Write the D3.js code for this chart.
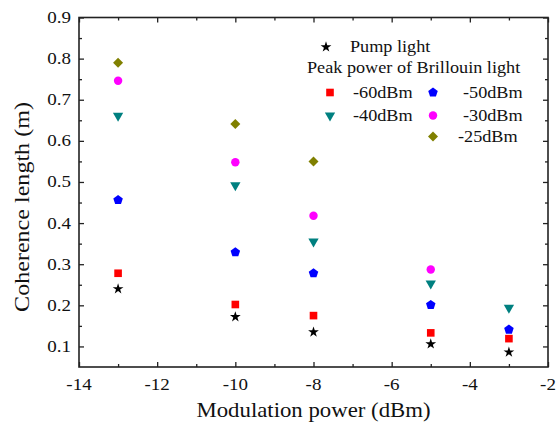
<!DOCTYPE html>
<html>
<head>
<meta charset="utf-8">
<script src="https://cdn.jsdelivr.net/npm/d3@7"></script>
<style>
  html, body { margin: 0; padding: 0; background: #fff; }
  svg { display: block; }
</style>
</head>
<body>
<svg id="chart" width="560" height="423"></svg>
<script>
// データ
const modulationPower = [-13, -10, -8, -5, -3];
const pumpLight = [0.24, 0.172, 0.135, 0.106, 0.086];
const brillouin60 = [0.278, 0.202, 0.175, 0.133, 0.119];
const brillouin50 = [0.456, 0.329, 0.278, 0.201, 0.141];
const brillouin40 = [0.661, 0.492, 0.355, 0.253, 0.194];
const brillouin30 = [0.746, 0.548, 0.418, 0.287, null];
const brillouin25 = [0.79, 0.641, 0.55, null, null];

const xTicks = [-14, -12, -10, -8, -6, -4, -2];
const yTicks = [0.1, 0.2, 0.3, 0.4, 0.5, 0.6, 0.7, 0.8, 0.9];

const svg = d3.select('#chart');
const margin = { left: 79, right: 548, top: 17.5, bottom: 367 };
const fontFamily = "'Liberation Serif', 'Times New Roman', Times, serif";

const x = d3.scaleLinear().domain([-14, -2]).range([margin.left, margin.right]);
const y = d3.scaleLinear().domain([0.05, 0.9]).range([margin.bottom, margin.top]);

// 横に少し引き伸ばしたテキスト
function stretchedText(parent, px, py, str, size, anchor, sx, rotate) {
    return parent.append('text')
        .attr('transform', `translate(${px},${py})` + (rotate ? ` rotate(${rotate})` : '') + ` scale(${sx},1)`)
        .attr('text-anchor', anchor)
        .attr('font-family', fontFamily)
        .attr('font-size', size)
        .attr('fill', '#111')
        .text(str);
}

// 五角形のパス
function pentagonPath(r) {
    const pts = d3.range(5).map(i => {
        const a = -Math.PI / 2 + i * 2 * Math.PI / 5;
        return [r * Math.cos(a), r * Math.sin(a)];
    });
    return d3.line()(pts) + 'Z';
}

const series = [
    { name: 'Pump light', values: pumpLight, color: '#000000', shape: d3.symbol(d3.symbolStar, 36)(), rot: 0 },
    { name: '-60dBm', values: brillouin60, color: '#ff0000', shape: d3.symbol(d3.symbolSquare, 58)(), rot: 0 },
    { name: '-50dBm', values: brillouin50, color: '#0000ff', shape: pentagonPath(5), rot: 0 },
    { name: '-40dBm', values: brillouin40, color: '#008080', shape: d3.symbol(d3.symbolTriangle, 46)(), rot: 180 },
    { name: '-30dBm', values: brillouin30, color: '#ff00ff', shape: d3.symbol(d3.symbolCircle, 56)(), rot: 0 },
    { name: '-25dBm', values: brillouin25, color: '#808000', shape: d3.symbol(d3.symbolSquare, 50)(), rot: 45 }
];

// 軸
const axisColor = '#222';
const xMinor = [-13, -11, -9, -7, -5, -3];
const yMinor = [0.15, 0.25, 0.35, 0.45, 0.55, 0.65, 0.75, 0.85];

svg.append('g').attr('transform', `translate(0,${margin.bottom})`)
    .call(d3.axisBottom(x).tickValues(xTicks).tickSize(-5).tickFormat(''));
svg.append('g').attr('transform', `translate(0,${margin.bottom})`)
    .call(d3.axisBottom(x).tickValues(xMinor).tickSize(-3).tickFormat(''));
svg.append('g').attr('transform', `translate(0,${margin.top})`)
    .call(d3.axisTop(x).tickValues(xTicks).tickSize(-5).tickFormat(''));
svg.append('g').attr('transform', `translate(0,${margin.top})`)
    .call(d3.axisTop(x).tickValues(xMinor).tickSize(-3).tickFormat(''));

svg.append('g').attr('transform', `translate(${margin.left},0)`)
    .call(d3.axisLeft(y).tickValues(yTicks).tickSize(-5).tickFormat(''));
svg.append('g').attr('transform', `translate(${margin.left},0)`)
    .call(d3.axisLeft(y).tickValues(yMinor).tickSize(-3).tickFormat(''));
svg.append('g').attr('transform', `translate(${margin.right},0)`)
    .call(d3.axisRight(y).tickValues(yTicks).tickSize(-5).tickFormat(''));
svg.append('g').attr('transform', `translate(${margin.right},0)`)
    .call(d3.axisRight(y).tickValues(yMinor).tickSize(-3).tickFormat(''));

svg.selectAll('.domain').remove();
svg.selectAll('.tick line').attr('stroke', axisColor).attr('stroke-width', 1.3);

// 枠線
svg.append('rect')
    .attr('x', margin.left).attr('y', margin.top)
    .attr('width', margin.right - margin.left).attr('height', margin.bottom - margin.top)
    .attr('fill', 'none').attr('stroke', axisColor).attr('stroke-width', 1.6);

// 目盛りラベル
xTicks.forEach(v => stretchedText(svg, x(v), 390, String(v), 17, 'middle', 1.12));
yTicks.forEach(v => stretchedText(svg, 71, y(v) + 5.5, d3.format('.1f')(v), 17, 'end', 1.12));

// 軸タイトル
stretchedText(svg, (margin.left + margin.right) / 2, 416.5, 'Modulation power (dBm)', 21.5, 'middle', 1.06);
stretchedText(svg, 29, 207, 'Coherence length (m)', 21.5, 'middle', 1.12, -90);

// データ点
series.forEach(s => {
    const pts = modulationPower.map((m, i) => ({ m, v: s.values[i] })).filter(d => d.v != null);
    svg.append('g').selectAll('path')
        .data(pts)
        .enter()
        .append('path')
        .attr('d', s.shape)
        .attr('fill', s.color)
        .attr('transform', d => `translate(${x(d.m)},${y(d.v)}) rotate(${s.rot})`);
});

// 凡例
const legend = svg.append('g');
function legendMark(s, px, py) {
    legend.append('path').attr('d', s.shape).attr('fill', s.color)
        .attr('transform', `translate(${px},${py}) rotate(${s.rot})`);
}
legendMark(series[0], 326, 47);
stretchedText(legend, 350, 51.7, 'Pump light', 17.5, 'start', 1.04);
stretchedText(legend, 307, 73, 'Peak power of Brillouin light', 17.5, 'start', 1.04);
legendMark(series[1], 330, 92.5);
stretchedText(legend, 353, 98.3, '-60dBm', 17.5, 'start', 1.04);
legendMark(series[2], 433, 92.5);
stretchedText(legend, 463, 98.3, '-50dBm', 17.5, 'start', 1.04);
legendMark(series[3], 330, 115.5);
stretchedText(legend, 353, 121, '-40dBm', 17.5, 'start', 1.04);
legendMark(series[4], 433, 115.5);
stretchedText(legend, 463, 121, '-30dBm', 17.5, 'start', 1.04);
legendMark(series[5], 433, 136.5);
stretchedText(legend, 458, 142, '-25dBm', 17.5, 'start', 1.04);
</script>
</body>
</html>
